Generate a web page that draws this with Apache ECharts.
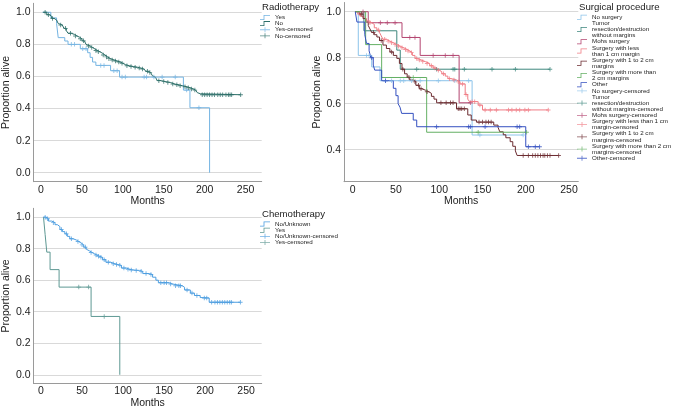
<!DOCTYPE html>
<html><head><meta charset="utf-8">
<script src="https://cdn.jsdelivr.net/npm/echarts@6/dist/echarts.min.js"></script>
<style>html,body{margin:0;padding:0;background:#fff}#c{width:677px;height:410px}</style>
</head><body><div id="c"></div>
<script>
// ---------- tick labels ----------
const monthTickLabels = ['0','50','100','150','200','250'];
const propTickLabels = ['0.0','0.2','0.4','0.6','0.8','1.0'];

// ---------- Radiotherapy ----------
const radYes = [[2,1],[12,0.965],[19,0.93],[21,0.842],[29,0.821],[33,0.80],[48,0.773],[57,0.748],[60,0.719],[63,0.69],[67,0.669],[85,0.636],[96,0.596],[174,0.515],[182,0.405],[206,0]];
const radYesCens = [[37,0.80],[41,0.80],[51,0.773],[55,0.773],[73,0.669],[77,0.669],[89,0.636],[93,0.636],[99,0.596],[103,0.596],[126,0.596],[129,0.596],[138,0.596],[148,0.596],[164,0.596],[178,0.515],[193,0.405]];
const radNo = [[3,1.0],[7,0.985],[10,0.975],[13,0.962],[16,0.952],[19,0.941],[21,0.93],[23,0.921],[26,0.91],[28,0.90],[31,0.885],[33,0.869],[37,0.862],[41,0.852],[44,0.845],[47,0.835],[50,0.822],[53,0.81],[55,0.80],[57,0.79],[60,0.78],[63,0.771],[66,0.762],[69,0.754],[72,0.745],[75,0.734],[78,0.722],[81,0.711],[85,0.703],[89,0.696],[93,0.69],[97,0.682],[100,0.674],[103,0.667],[108,0.662],[113,0.657],[118,0.652],[122,0.646],[126,0.64],[128,0.632],[131,0.624],[134,0.615],[136,0.605],[138,0.594],[140,0.584],[142,0.574],[147,0.568],[152,0.563],[158,0.553],[163,0.548],[168,0.542],[173,0.536],[178,0.53],[182,0.522],[186,0.515],[189,0.507],[191,0.499],[193,0.492],[195,0.486],[244,0.486]];
const radNoCens = [[5,1.0],[9,0.985],[14,0.962],[24,0.921],[30,0.90],[36,0.869],[42,0.852],[48,0.835],[52,0.822],[58,0.79],[62,0.78],[67,0.762],[70,0.754],[76,0.734],[80,0.722],[83,0.711],[87,0.703],[91,0.696],[95,0.69],[99,0.682],[105,0.667],[110,0.662],[115,0.657],[120,0.652],[124,0.646],[130,0.632],[133,0.624],[144,0.574],[150,0.568],[155,0.563],[161,0.553],[166,0.548],[170,0.542],[176,0.536],[180,0.53],[184,0.522],[188,0.515],[197,0.486],[200,0.486],[203,0.486],[206,0.486],[209,0.486],[212,0.486],[216,0.486],[219,0.486],[222,0.486],[226,0.486],[229,0.486],[231,0.486],[233,0.486],[244,0.486]];

// ---------- Chemotherapy ----------
const chemoNo = [[3,1],[6,0.99],[9,0.975],[13,0.965],[17,0.952],[20,0.94],[23,0.921],[26,0.908],[29,0.894],[32,0.878],[35,0.863],[39,0.855],[43,0.845],[46,0.835],[49,0.824],[52,0.81],[55,0.797],[57,0.786],[59,0.776],[62,0.768],[65,0.76],[68,0.752],[71,0.745],[75,0.73],[79,0.714],[85,0.704],[90,0.699],[94,0.694],[98,0.677],[104,0.669],[108,0.665],[112,0.662],[120,0.656],[124,0.642],[132,0.636],[136,0.619],[140,0.60],[143,0.584],[156,0.576],[160,0.565],[172,0.555],[175,0.538],[182,0.518],[187,0.503],[194,0.49],[196,0.487],[205,0.46],[243,0.46]];
const chemoNoCens = [[5,1],[8,0.99],[15,0.965],[25,0.921],[31,0.894],[37,0.863],[45,0.845],[50,0.824],[54,0.81],[61,0.776],[67,0.76],[70,0.752],[73,0.745],[77,0.73],[82,0.714],[88,0.704],[92,0.699],[96,0.694],[101,0.677],[106,0.669],[110,0.665],[116,0.662],[122,0.656],[128,0.642],[134,0.636],[146,0.584],[150,0.584],[153,0.584],[158,0.576],[164,0.565],[168,0.565],[170,0.565],[178,0.538],[184,0.518],[190,0.503],[199,0.487],[202,0.487],[208,0.46],[212,0.46],[215,0.46],[218,0.46],[221,0.46],[224,0.46],[227,0.46],[230,0.46],[232,0.46],[243,0.46]];
const chemoYes = [[3,1],[5,0.889],[7,0.778],[11,0.667],[22,0.556],[61,0.370],[96,0]];
const chemoYesCens = [[46,0.556],[58,0.556],[77,0.370]];

// ---------- Surgical procedure ----------
const surgNo = [[4,1],[6.5,0.81],[22,0.76],[31.6,0.70],[138,0.464],[197,0.464]];
const surgNoCens = [[16,0.81],[19,0.81],[38,0.70],[45,0.70],[55,0.70],[59,0.70],[68,0.70],[78,0.70],[99,0.70],[118,0.70],[134,0.70],[147,0.464],[197,0.464]];
const surgTumor = [[3,1],[13,0.917],[51,0.833],[55,0.75],[228,0.75]];
const surgTumorCens = [[74,0.75],[97,0.75],[116,0.75],[118,0.75],[129,0.75],[161,0.75],[188,0.75],[228,0.75]];
const surgMohs = [[10,1],[18,0.952],[57,0.888],[78,0.81],[123,0.604],[136,0.604]];
const surgMohsCens = [[12,1],[32,0.952],[40,0.952],[49,0.952],[66,0.888],[72,0.888],[93,0.81],[107,0.81],[116,0.81],[136,0.604]];
const surgLess = [[3,1],[6,0.99],[9,0.98],[13,0.97],[16,0.96],[19,0.952],[22,0.945],[25,0.93],[28,0.92],[31,0.91],[33,0.895],[35,0.88],[39,0.872],[43,0.865],[47,0.857],[51,0.85],[55,0.843],[59,0.836],[63,0.829],[66,0.822],[69,0.81],[72,0.797],[75,0.79],[79,0.783],[84,0.775],[89,0.765],[93,0.755],[97,0.746],[100,0.739],[103,0.73],[107,0.72],[110,0.709],[114,0.703],[120,0.695],[124,0.686],[130,0.64],[133,0.62],[135,0.609],[145,0.594],[150,0.573],[226,0.573]];
const surgLessCens = [[8,0.99],[20,0.952],[30,0.92],[37,0.88],[41,0.872],[45,0.865],[49,0.857],[53,0.85],[57,0.843],[61,0.836],[64,0.829],[68,0.822],[74,0.797],[77,0.79],[81,0.783],[86,0.775],[91,0.765],[95,0.755],[99,0.746],[105,0.73],[112,0.709],[117,0.703],[122,0.695],[127,0.686],[131,0.64],[138,0.609],[141,0.609],[147,0.594],[153,0.573],[159,0.573],[166,0.573],[180,0.573],[184,0.573],[189,0.573],[193,0.573],[199,0.573],[203,0.573],[226,0.573]];
const surgMid = [[3,1],[8,0.99],[12,0.97],[15,0.955],[18,0.94],[20,0.925],[22,0.91],[25,0.9],[28,0.89],[31,0.875],[35,0.855],[39,0.84],[43,0.825],[47,0.81],[51,0.797],[54,0.775],[57,0.75],[60,0.73],[63,0.715],[66,0.703],[70,0.695],[73,0.68],[77,0.665],[80,0.659],[84,0.652],[88,0.645],[91,0.632],[94,0.62],[97,0.604],[120,0.578],[133,0.551],[137,0.529],[143,0.52],[163,0.507],[168,0.497],[170,0.478],[174,0.465],[177,0.452],[182,0.435],[185,0.415],[188,0.395],[190,0.375],[238,0.375]];
const surgMidCens = [[10,0.99],[24,0.91],[33,0.875],[45,0.825],[58,0.75],[65,0.715],[72,0.695],[76,0.68],[79,0.665],[86,0.652],[102,0.604],[108,0.604],[113,0.604],[116,0.604],[122,0.578],[124,0.578],[126,0.578],[129,0.578],[146,0.52],[150,0.52],[154,0.52],[157,0.52],[160,0.52],[197,0.375],[203,0.375],[208,0.375],[211,0.375],[214,0.375],[217,0.375],[220,0.375],[222,0.375],[225,0.375],[228,0.375],[238,0.375]];
const surgMore = [[3,1],[15,0.857],[33.5,0.714],[85.5,0.476],[201,0.476]];
const surgMoreCens = [[70,0.714],[145,0.476],[201,0.476]];
const surgOther = [[3,1],[5,0.955],[14,0.90],[16,0.862],[19,0.83],[21,0.80],[23.8,0.768],[25.5,0.746],[33.5,0.70],[47,0.667],[50,0.635],[52.5,0.60],[54.7,0.585],[56.6,0.558],[70,0.529],[74,0.50],[200,0.413],[216,0.413]];
const surgOtherCens = [[22,0.80],[38,0.70],[97,0.50],[134,0.50],[136,0.50],[153,0.50],[190,0.50],[193,0.50],[203,0.413],[211,0.413],[216,0.413]];

// ---------- legend labels ----------
const radLabels = ['Yes','No','Yes-censored','No-censored'];
const chemoLabels = ['No/Unknown','Yes','No/Unknown-censored','Yes-censored'];
const surgLabels = ['No surgery','Tumor\nresection/destruction\nwithout margins','Mohs surgery','Surgery with less\nthan 1 cm margin','Surgery with 1 to 2 cm\nmargins','Surgery with more than\n2 cm margins','Other','No surgery-censored','Tumor\nresection/destruction\nwithout margins-censored','Mohs surgery-censored','Surgery with less than 1 cm\nmargin-censored','Surgery with 1 to 2 cm\nmargins-censored','Surgery with more than 2 cm\nmargins-censored','Other-censored'];

// ---------- styling ----------
const FONT = '"Liberation Sans", Arial, sans-serif';
const TXT = '#222';
const STEP_ICON = 'path://M0,4.2L3.6,4.2L3.6,0L10,0L10,0.8L4.4,0.8L4.4,5L0,5Z';
const CENS_ICON = 'path://M0,2.1L10,2.1L10,2.9L0,2.9Z M4.6,0L5.4,0L5.4,5L4.6,5Z';
const PLUS = 'path://M0,1.6L4,1.6L4,2.4L0,2.4Z M1.6,0L2.4,0L2.4,4L1.6,4Z';

const C = {
  radYes:'#74b4e2', radNo:'#2c6e68',
  chemoNo:'#4c9de0', chemoYes:'#5e9893',
  sNo:'#8cc3ea', sTumor:'#3d877d', sMohs:'#b3446f', sLess:'#f07c84', sMid:'#6b2b30', sMore:'#64b064', sOther:'#3450c0'
};

const labelMap = {};
const series = [];
function addGroup(g, prefix, curves, labels) {
  const legendData = [];
  const n = curves.length;
  curves.forEach((cv, i) => {
    const id = prefix + ':L' + i;
    labelMap[id] = labels[i];
    series.push({type:'line', name:id, xAxisIndex:g, yAxisIndex:g, data:cv[1], step:'end', symbol:'none',
      lineStyle:{width:1, color:cv[3]}, itemStyle:{color:cv[3]}, silent:true, animation:false, z:2});
    legendData.push({name:id, icon:STEP_ICON, itemStyle:{color:cv[3], borderWidth:0, borderColor:'transparent'}});
  });
  curves.forEach((cv, i) => {
    const id = prefix + ':C' + i;
    labelMap[id] = labels[n + i];
    series.push({type:'scatter', name:id, xAxisIndex:g, yAxisIndex:g, data:cv[2], symbol:PLUS, symbolSize:4.5,
      itemStyle:{color:cv[3]}, silent:true, animation:false, z:3});
    legendData.push({name:id, icon:CENS_ICON, itemStyle:{color:cv[3], borderWidth:0, borderColor:'transparent'}});
  });
  return legendData;
}

const radLegend = addGroup(0, 'rad', [['yes', radYes, radYesCens, C.radYes], ['no', radNo, radNoCens, C.radNo]], radLabels);
const surgLegend = addGroup(1, 'surg', [
  ['no', surgNo, surgNoCens, C.sNo], ['tumor', surgTumor, surgTumorCens, C.sTumor], ['mohs', surgMohs, surgMohsCens, C.sMohs],
  ['less', surgLess, surgLessCens, C.sLess], ['mid', surgMid, surgMidCens, C.sMid], ['more', surgMore, surgMoreCens, C.sMore],
  ['other', surgOther, surgOtherCens, C.sOther]], surgLabels);
const chemoLegend = addGroup(2, 'chemo', [['no', chemoNo, chemoNoCens, C.chemoNo], ['yes', chemoYes, chemoYesCens, C.chemoYes]], chemoLabels);

function yFmt(v){ const s = v.toFixed(1); return (propTickLabels.includes(s) && Math.abs(v - parseFloat(s)) < 1e-6) ? s : ''; }
function xFmt(v){ const r = Math.round(v); return (monthTickLabels.includes(String(r)) && Math.abs(v - r) < 1e-6) ? String(r) : ''; }

function xAxis(g, min, max){
  return {type:'value', gridIndex:g, min, max, minInterval:50, maxInterval:50,
    name:'Months', nameLocation:'middle', nameGap:11.5,
    nameTextStyle:{fontFamily:FONT, fontSize:10.5, color:TXT},
    axisLine:{show:true, onZero:false, lineStyle:{color:'#9a9a9a', width:1}},
    axisTick:{show:false}, splitLine:{show:false},
    axisLabel:{fontFamily:FONT, fontSize:10.5, color:TXT, margin:2.5, formatter:xFmt, showMinLabel:false, showMaxLabel:false}};
}
function yAxis(g, min, max){
  return {type:'value', gridIndex:g, min, max, minInterval:0.2, maxInterval:0.2,
    name:'Proportion alive', nameLocation:'middle', nameGap:18,
    nameTextStyle:{fontFamily:FONT, fontSize:10.5, color:TXT},
    axisLine:{show:true, onZero:false, lineStyle:{color:'#9a9a9a', width:1}},
    axisTick:{show:false},
    splitLine:{show:true, showMinLine:false, showMaxLine:false, lineStyle:{color:'#d9d9d9', width:1}},
    axisLabel:{fontFamily:FONT, fontSize:10.5, color:TXT, margin:3, formatter:yFmt, showMinLabel:false, showMaxLabel:false}};
}
function legend(left, top, data){
  return {orient:'vertical', left, top, padding:0, itemGap:0, itemWidth:10, itemHeight:5, selectedMode:false,
    data, formatter:(name)=>labelMap[name],
    textStyle:{fontFamily:FONT, fontSize:6.2, lineHeight:6.13, color:TXT}};
}
function title(text, left, top){
  return {text, left, top, padding:0, textStyle:{fontFamily:FONT, fontSize:9.6, fontWeight:'normal', color:TXT, lineHeight:11}};
}

const option = {
  backgroundColor:'#fff',
  animation:false,
  title:[title('Radiotherapy', 262, 2), title('Surgical procedure', 579, 2), title('Chemotherapy', 262, 208.5)],
  legend:[legend(260, 14.4, radLegend), legend(577, 14.2, surgLegend), legend(260, 221, chemoLegend)],
  grid:[
    {left:28, right:415.3, top:3.3, bottom:228.3},
    {left:344, right:98.7, top:2.5, bottom:228.3},
    {left:28, right:415.3, top:208.3, bottom:22.7}
  ],
  xAxis:[xAxis(0, -9.2, 269.7), xAxis(1, -10, 260.7), xAxis(2, -9.2, 269)],
  yAxis:[yAxis(0, -0.056, 1.056), yAxis(1, 0.261, 1.04), yAxis(2, -0.056, 1.056)],
  series
};
const chart = echarts.init(document.getElementById('c'), null, {renderer:'canvas'});
chart.setOption(option);
</script></body></html>
